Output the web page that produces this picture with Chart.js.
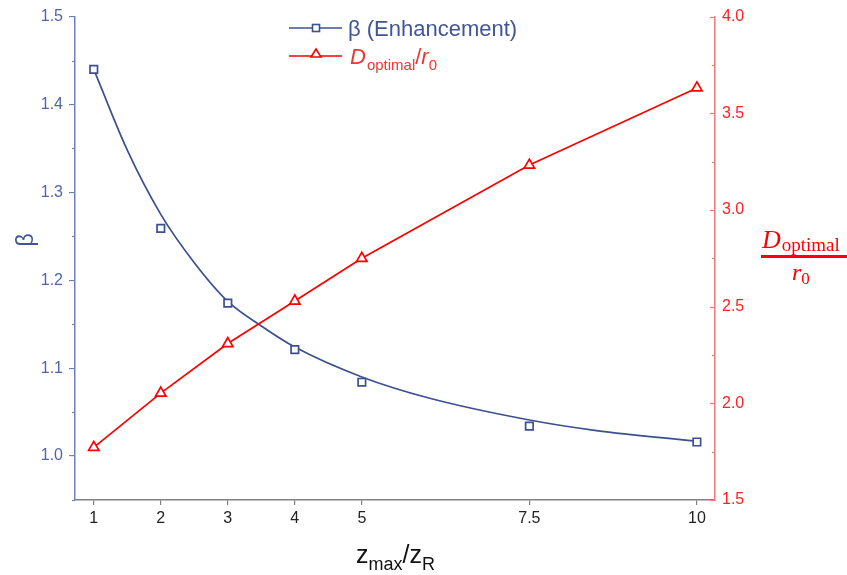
<!DOCTYPE html>
<html>
<head>
<meta charset="utf-8">
<script src="https://cdn.jsdelivr.net/npm/chart.js@4.4.1/dist/chart.umd.min.js"></script>
<style>
  html, body { margin: 0; padding: 0; background: #fff; }
  #wrap { width: 847px; height: 575px; }
</style>
</head>
<body>
<div id="wrap"><canvas id="betaChart"></canvas></div>
<script>
// measured points
const zRatio = [1, 2, 3, 4, 5, 7.5, 10];
const betaValues = [1.440, 1.259, 1.174, 1.121, 1.084, 1.034, 1.016];
const dOptimal = [1.772, 2.053, 2.309, 2.529, 2.750, 3.232, 3.631];

// fitted curve for beta
const fitX = [1, 1.5, 2, 2.5, 3, 3.5, 4, 5, 6, 7.5, 8.5, 10];
const fitBeta = [1.440, 1.348, 1.275, 1.220, 1.176, 1.148, 1.124, 1.090, 1.066, 1.041, 1.029, 1.017];

// tick labels
const xTicks = [1, 2, 3, 4, 5, 7.5, 10];
const betaTicks = [1.0, 1.1, 1.2, 1.3, 1.4, 1.5];
const dTicks = [1.5, 2.0, 2.5, 3.0, 3.5, 4.0];

const BLUE = '#3b5090';
const RED = '#ff0000';
const FONT = '"Liberation Sans", Arial, sans-serif';
const SERIF = '"Liberation Serif", "Times New Roman", serif';

function pts(xs, ys) {
    return xs.map((x, i) => ({ x: x, y: ys[i] }));
}

// draws a run of text pieces, each with its own font and baseline shift
function drawRuns(ctx, runs, x, y, color) {
    ctx.fillStyle = color;
    ctx.textBaseline = 'alphabetic';
    ctx.textAlign = 'left';
    runs.forEach(r => {
        ctx.font = r.font;
        ctx.fillText(r.t, x, y + (r.dy || 0));
        x += ctx.measureText(r.t).width + (r.gap || 0);
    });
    return x;
}

const extras = {
    id: 'extras',
    afterDraw(chart) {
        const ctx = chart.ctx;
        const y = chart.scales.y, y2 = chart.scales.y2;
        const area = chart.chartArea;
        ctx.save();

        // minor ticks left
        ctx.strokeStyle = '#7080b8';
        ctx.lineWidth = 1.2;
        for (let v = 0.95; v < 1.5; v += 0.1) {
            const py = Math.round(y.getPixelForValue(v)) + 0.5;
            ctx.beginPath();
            ctx.moveTo(area.left - 3, py);
            ctx.lineTo(area.left, py);
            ctx.stroke();
        }

        // right axis ticks point inward
        ctx.strokeStyle = '#f07878';
        dTicks.forEach(v => {
            const py = Math.round(y2.getPixelForValue(v)) + 0.5;
            ctx.beginPath();
            ctx.moveTo(area.right - 5, py);
            ctx.lineTo(area.right, py);
            ctx.stroke();
        });
        for (let v = 1.75; v < 4; v += 0.5) {
            const py = Math.round(y2.getPixelForValue(v)) + 0.5;
            ctx.beginPath();
            ctx.moveTo(area.right - 3, py);
            ctx.lineTo(area.right, py);
            ctx.stroke();
        }

        // legend
        ctx.lineWidth = 1.6;
        ctx.strokeStyle = BLUE;
        ctx.beginPath();
        ctx.moveTo(289, 28); ctx.lineTo(342, 28);
        ctx.stroke();
        ctx.fillStyle = '#fff';
        ctx.fillRect(312.5, 24.5, 7, 7);
        ctx.strokeRect(312.5, 24.5, 7, 7);
        drawRuns(ctx, [{ t: 'β (Enhancement)', font: '22px ' + FONT }], 348, 36, '#3f5596');

        ctx.strokeStyle = RED;
        ctx.beginPath();
        ctx.moveTo(289, 56); ctx.lineTo(342, 56);
        ctx.stroke();
        ctx.fillStyle = '#fff';
        ctx.beginPath();
        ctx.moveTo(316, 49); ctx.lineTo(321, 57); ctx.lineTo(311, 57); ctx.closePath();
        ctx.fill(); ctx.stroke();
        drawRuns(ctx, [
            { t: 'D', font: 'italic 22px ' + FONT, gap: 1 },
            { t: 'optimal', font: '15px ' + FONT, dy: 6 },
            { t: '/', font: '22px ' + FONT },
            { t: 'r', font: 'italic 22px ' + FONT },
            { t: '0', font: '15px ' + FONT, dy: 6 }
        ], 350, 64, '#f03535');

        // x title
        drawRuns(ctx, [
            { t: 'z', font: '25px ' + FONT },
            { t: 'max', font: '18px ' + FONT, dy: 7 },
            { t: '/', font: '25px ' + FONT },
            { t: 'z', font: '25px ' + FONT },
            { t: 'R', font: '18px ' + FONT, dy: 7 }
        ], 356, 563, '#111');

        // left title
        ctx.save();
        ctx.translate(33, 240);
        ctx.rotate(-Math.PI / 2);
        ctx.textAlign = 'center';
        ctx.textBaseline = 'alphabetic';
        ctx.font = '23px ' + FONT;
        ctx.fillStyle = '#3f5596';
        ctx.fillText('β', 0, 0);
        ctx.restore();

        // right title, fraction
        drawRuns(ctx, [
            { t: 'D', font: 'italic 26px ' + SERIF, gap: 1 },
            { t: 'optimal', font: '19px ' + SERIF, dy: 3 }
        ], 762, 248, RED);
        ctx.fillStyle = RED;
        ctx.fillRect(761, 255, 86, 3);
        drawRuns(ctx, [
            { t: 'r', font: 'italic 24px ' + SERIF },
            { t: '0', font: '17px ' + SERIF, dy: 4 }
        ], 792, 280, RED);

        ctx.restore();
    }
};

const ctx = document.getElementById('betaChart').getContext('2d');
new Chart(ctx, {
    type: 'scatter',
    data: {
        datasets: [
            {
                label: 'fit',
                data: pts(fitX, fitBeta),
                showLine: true,
                borderColor: BLUE,
                borderWidth: 1.7,
                pointRadius: 0,
                cubicInterpolationMode: 'monotone',
                yAxisID: 'y',
                order: 3
            },
            {
                label: 'β (Enhancement)',
                data: pts(zRatio, betaValues),
                showLine: false,
                pointStyle: 'rect',
                pointRadius: 5.3,
                borderColor: BLUE,
                backgroundColor: '#fff',
                borderWidth: 1.7,
                yAxisID: 'y',
                order: 1
            },
            {
                label: 'D_optimal/r_0',
                data: pts(zRatio, dOptimal),
                showLine: true,
                borderColor: RED,
                borderWidth: 1.7,
                pointStyle: 'triangle',
                pointRadius: 6,
                backgroundColor: '#fff',
                pointBorderWidth: 1.7,
                yAxisID: 'y2',
                order: 2
            }
        ]
    },
    options: {
        responsive: true,
        maintainAspectRatio: false,
        animation: false,
        layout: { padding: { top: 12, left: 0, right: 0, bottom: 0 } },
        plugins: {
            legend: { display: false },
            tooltip: { enabled: false }
        },
        scales: {
            x: {
                type: 'linear',
                min: 0.72,
                max: 10.27,
                afterBuildTicks: s => { s.ticks = xTicks.map(v => ({ value: v })); },
                afterFit: s => { s.height = 75; },
                grid: { drawOnChartArea: false, tickLength: 5, color: '#808080', lineWidth: 1.2 },
                border: { color: '#808080', width: 1.5 },
                ticks: {
                    padding: 4,
                    color: '#222',
                    font: { size: 16, family: FONT },
                    maxRotation: 0,
                    callback: v => String(v)
                }
            },
            y: {
                position: 'left',
                min: 0.95,
                max: 1.5,
                afterBuildTicks: s => { s.ticks = betaTicks.map(v => ({ value: v })); },
                afterFit: s => { s.width = 75; },
                grid: { drawOnChartArea: false, tickLength: 6, color: '#7080b8', lineWidth: 1.2 },
                border: { color: '#7080b8', width: 1.5 },
                ticks: {
                    padding: 6,
                    color: '#5066a6',
                    font: { size: 16, family: FONT },
                    callback: v => v.toFixed(1)
                }
            },
            y2: {
                position: 'right',
                min: 1.5,
                max: 4.0,
                afterBuildTicks: s => { s.ticks = dTicks.map(v => ({ value: v })); },
                afterFit: s => { s.width = 132; },
                grid: { drawOnChartArea: false, drawTicks: false },
                border: { color: '#f07878', width: 1.5 },
                ticks: {
                    padding: 7,
                    color: '#ff2020',
                    font: { size: 16, family: FONT },
                    callback: v => v.toFixed(1)
                }
            }
        }
    },
    plugins: [extras]
});
</script>
</body>
</html>
